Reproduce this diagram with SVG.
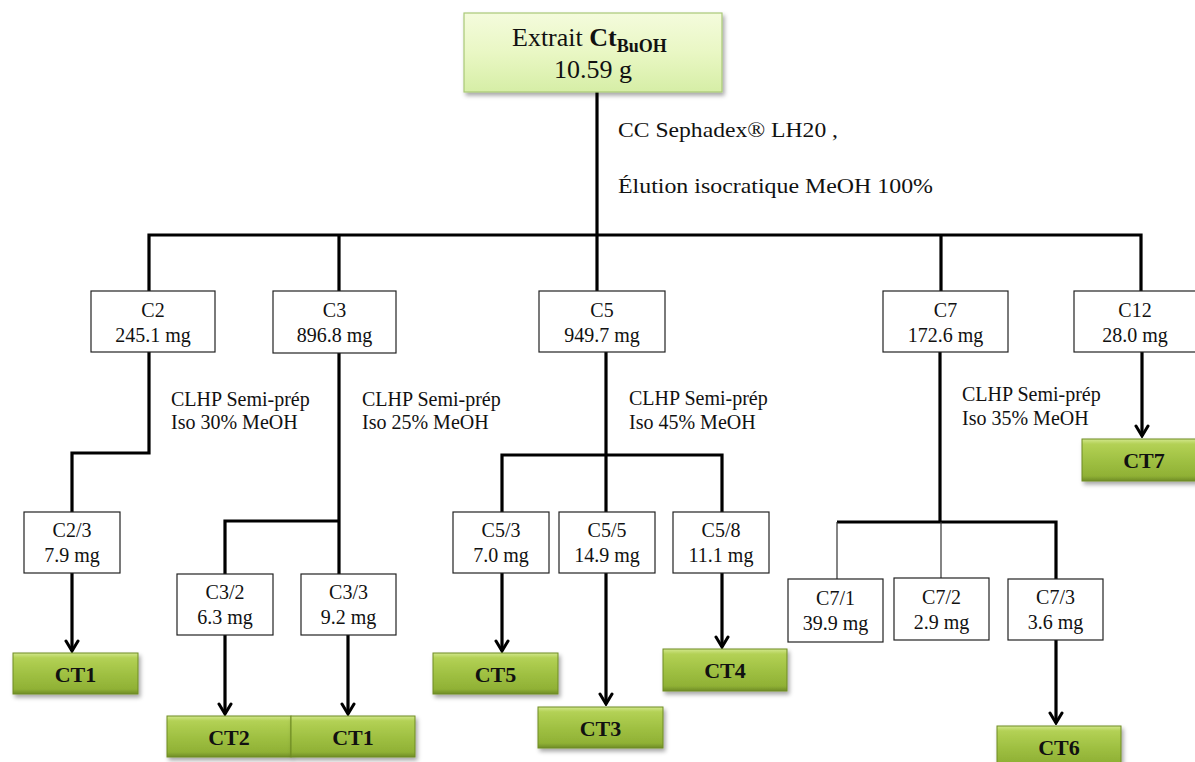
<svg xmlns="http://www.w3.org/2000/svg" width="1195" height="762" viewBox="0 0 1195 762">
  <defs>
    <linearGradient id="gTop" x1="0" y1="0" x2="0" y2="1">
      <stop offset="0" stop-color="#f4fbdc"/>
      <stop offset="0.5" stop-color="#e9f7c4"/>
      <stop offset="1" stop-color="#d6eea6"/>
    </linearGradient>
    <linearGradient id="gCT" x1="0" y1="0" x2="0" y2="1">
      <stop offset="0" stop-color="#d2e78c"/>
      <stop offset="0.12" stop-color="#b3d155"/>
      <stop offset="0.5" stop-color="#a0c143"/>
      <stop offset="0.88" stop-color="#90b135"/>
      <stop offset="1" stop-color="#6f8c25"/>
    </linearGradient>
    <filter id="shadow" x="-10%" y="-10%" width="125%" height="140%">
      <feDropShadow dx="2" dy="3" stdDeviation="2" flood-color="#000" flood-opacity="0.35"/>
    </filter>
    <!-- open V arrowhead, drawn along +x so orient="auto" points it down the line -->
    <marker id="arrow" viewBox="-12 -8 14 16" refX="0" refY="0" markerWidth="14" markerHeight="16" markerUnits="userSpaceOnUse" orient="auto">
      <path d="M-10,-6 L0,0 L-10,6" fill="none" stroke="#000" stroke-width="3" stroke-linecap="round" stroke-linejoin="miter"/>
    </marker>
    <style>
      text { font-family: "Liberation Serif", "Times New Roman", serif; fill: #111; }
      .box { fill: #fff; stroke: #222; stroke-width: 1.2; }
      .ct { fill: url(#gCT); stroke: #6f8c25; stroke-width: 1; filter: url(#shadow); }
      .ctt { font-size: 22px; font-weight: bold; text-anchor: middle; }
      .bt { font-size: 20px; text-anchor: middle; }
      .lbl { font-size: 20px; }
      .top { font-size: 22px; }
      .wire { fill: none; stroke: #000; stroke-width: 3.2; stroke-linejoin: miter; }
      .thin { fill: none; stroke: #333; stroke-width: 1.2; }
      .arr { fill: none; stroke: #000; stroke-width: 3.2; marker-end: url(#arrow); }
    </style>
  </defs>

  <!-- connectors -->
  <g id="connectors">
    <path class="wire" d="M597,92 V235"/>
    <path class="wire" d="M149,291 V235 H1141 V291"/>
    <path class="wire" d="M339,235 V291"/>
    <path class="wire" d="M597,235 V291"/>
    <path class="wire" d="M941,235 V291"/>
    <!-- C2 branch -->
    <path class="wire" d="M149,352 V453 H72 V512"/>
    <path class="arr" d="M72,573 V651"/>
    <!-- C3 branch -->
    <path class="wire" d="M339,353 V574"/>
    <path class="wire" d="M339,521 H225 V574"/>
    <path class="arr" d="M225,635 V714"/>
    <path class="arr" d="M348,635 V714"/>
    <!-- C5 branch -->
    <path class="wire" d="M606,352 V512"/>
    <path class="wire" d="M502,512 V455 H722 V512"/>
    <path class="arr" d="M502,573 V651"/>
    <path class="arr" d="M606,573 V704"/>
    <path class="arr" d="M722,573 V647"/>
    <!-- C7 branch -->
    <path class="wire" d="M940,352 V522"/>
    <path class="wire" d="M837,522 H1056 V579"/>
    <path class="thin" d="M837,522 V579"/>
    <path class="thin" d="M941,522 V578"/>
    <path class="arr" d="M1056,640 V723"/>
    <!-- C12 branch -->
    <path class="arr" d="M1142,352 V436"/>
  </g>

  <!-- method labels -->
  <g id="labels">
    <text class="top" x="618" y="137" textLength="220" lengthAdjust="spacingAndGlyphs">CC Sephadex® LH20 ,</text>
    <text class="top" x="618" y="193" textLength="315" lengthAdjust="spacingAndGlyphs">Élution isocratique MeOH 100%</text>
    <text class="lbl" x="171" y="406">CLHP Semi-prép</text>
    <text class="lbl" x="171" y="429">Iso 30% MeOH</text>
    <text class="lbl" x="362" y="406">CLHP Semi-prép</text>
    <text class="lbl" x="362" y="429">Iso 25% MeOH</text>
    <text class="lbl" x="629" y="405">CLHP Semi-prép</text>
    <text class="lbl" x="629" y="429">Iso 45% MeOH</text>
    <text class="lbl" x="962" y="401">CLHP Semi-prép</text>
    <text class="lbl" x="962" y="425">Iso 35% MeOH</text>
  </g>

  <!-- root extract -->
  <g id="extrait">
    <rect x="464" y="13" width="258" height="79" fill="url(#gTop)" stroke="#a9c977" stroke-width="1.2" filter="url(#shadow)"/>
    <text x="512" y="46" font-size="26">Extrait <tspan font-weight="bold">Ct</tspan><tspan font-weight="bold" font-size="18" dy="6">BuOH</tspan></text>
    <text x="593" y="78" font-size="26" text-anchor="middle">10.59 g</text>
  </g>

  <!-- first-level fractions -->
  <g id="C2"><rect class="box" x="91" y="291" width="124" height="61"/><text class="bt" x="153" y="317">C2</text><text class="bt" x="153" y="342">245.1 mg</text></g>
  <g id="C3"><rect class="box" x="273" y="291" width="123" height="62"/><text class="bt" x="334.5" y="317">C3</text><text class="bt" x="334.5" y="342">896.8 mg</text></g>
  <g id="C5"><rect class="box" x="539" y="291" width="126" height="61"/><text class="bt" x="602" y="317">C5</text><text class="bt" x="602" y="342">949.7 mg</text></g>
  <g id="C7"><rect class="box" x="883" y="291" width="125" height="61"/><text class="bt" x="945.5" y="317">C7</text><text class="bt" x="945.5" y="342">172.6 mg</text></g>
  <g id="C12"><rect class="box" x="1074" y="291" width="122" height="61"/><text class="bt" x="1135" y="317">C12</text><text class="bt" x="1135" y="342">28.0 mg</text></g>

  <!-- sub-fractions -->
  <g id="C2-3"><rect class="box" x="24" y="512" width="96" height="61"/><text class="bt" x="72" y="537">C2/3</text><text class="bt" x="72" y="562">7.9 mg</text></g>
  <g id="C3-2"><rect class="box" x="177" y="574" width="96" height="61"/><text class="bt" x="225" y="599">C3/2</text><text class="bt" x="225" y="624">6.3 mg</text></g>
  <g id="C3-3"><rect class="box" x="301" y="574" width="95" height="61"/><text class="bt" x="348.5" y="599">C3/3</text><text class="bt" x="348.5" y="624">9.2 mg</text></g>
  <g id="C5-3"><rect class="box" x="453" y="512" width="96" height="61"/><text class="bt" x="501" y="537">C5/3</text><text class="bt" x="501" y="562">7.0 mg</text></g>
  <g id="C5-5"><rect class="box" x="559" y="512" width="96" height="61"/><text class="bt" x="607" y="537">C5/5</text><text class="bt" x="607" y="562">14.9 mg</text></g>
  <g id="C5-8"><rect class="box" x="673" y="512" width="96" height="61"/><text class="bt" x="721" y="537">C5/8</text><text class="bt" x="721" y="562">11.1 mg</text></g>
  <g id="C7-1"><rect class="box" x="788" y="579" width="95" height="63"/><text class="bt" x="835.5" y="605">C7/1</text><text class="bt" x="835.5" y="630">39.9 mg</text></g>
  <g id="C7-2"><rect class="box" x="894" y="578" width="95" height="62"/><text class="bt" x="941.5" y="604">C7/2</text><text class="bt" x="941.5" y="629">2.9 mg</text></g>
  <g id="C7-3"><rect class="box" x="1008" y="579" width="95" height="61"/><text class="bt" x="1055.5" y="604">C7/3</text><text class="bt" x="1055.5" y="629">3.6 mg</text></g>

  <!-- isolated compounds -->
  <g id="CT1a"><rect class="ct" x="13" y="653" width="125" height="41"/><text class="ctt" x="75.5" y="682">CT1</text></g>
  <g id="CT2"><rect class="ct" x="167" y="716" width="124" height="41"/><text class="ctt" x="229" y="745">CT2</text></g>
  <g id="CT1b"><rect class="ct" x="291" y="716" width="124" height="41"/><text class="ctt" x="353" y="745">CT1</text></g>
  <g id="CT5"><rect class="ct" x="433" y="653" width="125" height="41"/><text class="ctt" x="495.5" y="682">CT5</text></g>
  <g id="CT3"><rect class="ct" x="538" y="707" width="125" height="41"/><text class="ctt" x="600.5" y="736">CT3</text></g>
  <g id="CT4"><rect class="ct" x="663" y="649" width="124" height="42"/><text class="ctt" x="725" y="678">CT4</text></g>
  <g id="CT6"><rect class="ct" x="997" y="726" width="124" height="41"/><text class="ctt" x="1059" y="755">CT6</text></g>
  <g id="CT7"><rect class="ct" x="1082" y="439" width="125" height="42"/><text class="ctt" x="1144" y="468">CT7</text></g>
</svg>
